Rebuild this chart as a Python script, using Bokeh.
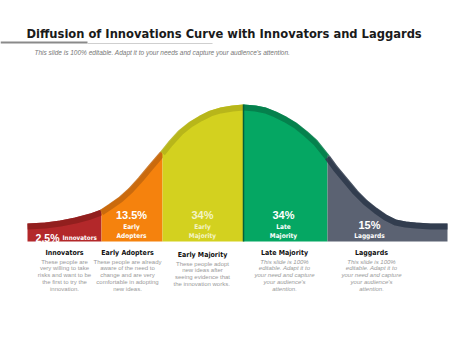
from bokeh.plotting import figure
from bokeh.models import Range1d
from bokeh.core.properties import value
from bokeh.embed import file_html
from bokeh.resources import INLINE

# ---- data ----
title = "Diffusion of Innovations Curve with Innovators and Laggards"
subtitle = "This slide is 100% editable. Adapt it to your needs and capture your audience's attention."

# curve: x position and height above the baseline (px)
curve_x = [27, 45, 60, 75, 90, 101, 110, 120, 130, 140, 150, 162, 170, 180, 190, 200, 210,
           220, 232, 243, 255, 265, 275, 285, 295, 305, 315, 327, 335, 345, 355, 365, 375,
           385, 395, 405, 415, 430, 447]
curve_h = [18, 19, 21, 24, 28, 32, 38, 45, 54, 65, 77, 91, 101, 112, 120, 126, 131,
           134, 136, 137, 136, 134, 130, 125, 119, 111, 102, 87, 76, 64, 52, 42, 34,
           27, 22, 20, 19, 18, 18]

segments = ["Innovators", "Early Adopters", "Early Majority", "Late Majority", "Laggards"]
shares = ["2.5%", "13.5%", "34%", "34%", "15%"]
bounds = [27, 101, 162, 243, 327, 447]
fills = ["#B3282A", "#F5820D", "#D3D11F", "#05A763", "#5B6272"]
bands = ["#8C1D1C", "#C2660E", "#B3B21A", "#067A49", "#2C3749"]
inner_lines = [None, ["Early", "Adopters"], ["Early", "Majority"], ["Late", "Majority"], ["Laggards"]]
descriptions = [
    ["These people are", "very willing to take", "risks and want to be", "the first to try the", "innovation."],
    ["These people are already", "aware of the need to", "change and are very", "comfortable in adopting", "new ideas."],
    ["These people adopt", "new ideas after", "seeing evidence that", "the innovation  works."],
    ["This slide is 100%", "editable. Adapt it to", "your need and capture", "your audience's", "attention."],
    ["This slide is 100%", "editable. Adapt it to", "your need and capture", "your audience's", "attention."],
]

BASE = 241

p = figure(width=474, height=355, output_backend="svg", toolbar_location=None,
           x_range=Range1d(0, 474), y_range=Range1d(355, 0),
           min_border=0, outline_line_color=None, background_fill_color="white")
p.axis.visible = False
p.grid.visible = False

for i in range(5):
    lo, hi = bounds[i], bounds[i + 1]
    xs = [x for x in curve_x if lo <= x <= hi]
    ys = [BASE - h for x, h in zip(curve_x, curve_h) if lo <= x <= hi]
    px = [lo] + xs + [hi]
    py = [BASE] + ys + [BASE]
    p.patch(px, py, fill_color=fills[i], line_color=None)
    p.line(xs, [y + 3 for y in ys], line_color=bands[i], line_width=6, line_alpha=0.85,
           line_join="round")

# dividing line at the peak
p.segment(x0=[bounds[3]], y0=[BASE - curve_h[curve_x.index(bounds[3])]], x1=[bounds[3]], y1=[BASE],
          line_color="#06603A", line_width=1.5)

font = value("Liberation Sans")
narrow = value("'DejaVu Sans Condensed', 'Liberation Sans Narrow', 'Liberation Sans', sans-serif")

# title and rules
p.text(x=[26], y=[33], text=[title], text_font=narrow, text_font_style="bold",
       text_font_size="12.8px", text_color="#1a1a1a", text_baseline="middle", text_align="left")
p.segment(x0=[0], y0=[42], x1=[87], y1=[42], line_color="#8a8a8a", line_width=2)
p.segment(x0=[87], y0=[43], x1=[212], y1=[43], line_color="#cfcfcf", line_width=1)
p.text(x=[34], y=[52], text=[subtitle], text_font=font, text_font_style="italic",
       text_font_size="6.5px", text_color="#777777", text_baseline="middle", text_align="left")

# inner labels
p.text(x=[59], y=[237], text=[shares[0]], text_font=font, text_font_style="bold",
       text_font_size="10.5px", text_color="white", text_baseline="alphabetic", text_align="right")
p.text(x=[62], y=[237], text=[segments[0]], text_font=narrow, text_font_style="bold",
       text_font_size="6.3px", text_color="white", text_baseline="alphabetic", text_align="left")
label_x = [None, 131, 202, 283, 369]
for i in range(1, 5):
    lines = inner_lines[i]
    ys = [226, 235] if len(lines) == 2 else [235]
    top = 214 if len(lines) == 2 else 224
    col = "#F4F4C8" if i == 2 else "white"
    p.text(x=[label_x[i]], y=[top], text=[shares[i]], text_font=font, text_font_style="bold",
           text_font_size="11px", text_color=col, text_baseline="middle", text_align="center")
    p.text(x=[label_x[i]] * len(lines), y=ys, text=lines, text_font=narrow, text_font_style="bold",
           text_font_size="6.5px", text_color=col, text_baseline="middle", text_align="center")

# headings and descriptions below
head_x = [64, 127, 202, 284, 371]
head_y = [252, 252, 254, 252, 252]
for i in range(5):
    p.text(x=[head_x[i]], y=[head_y[i]], text=[segments[i]], text_font=narrow, text_font_style="bold",
           text_font_size="7px", text_color="#111111", text_baseline="middle", text_align="center")
    d = descriptions[i]
    ys = [head_y[i] + 9 + 6.8 * k for k in range(len(d))]
    p.text(x=[head_x[i]] * len(d), y=ys, text=d, text_font=font,
           text_font_style="italic" if i >= 3 else "normal",
           text_font_size="6px", text_color="#9a9a9a", text_baseline="middle", text_align="center")

open("out.html", "w").write(file_html(p, INLINE))
